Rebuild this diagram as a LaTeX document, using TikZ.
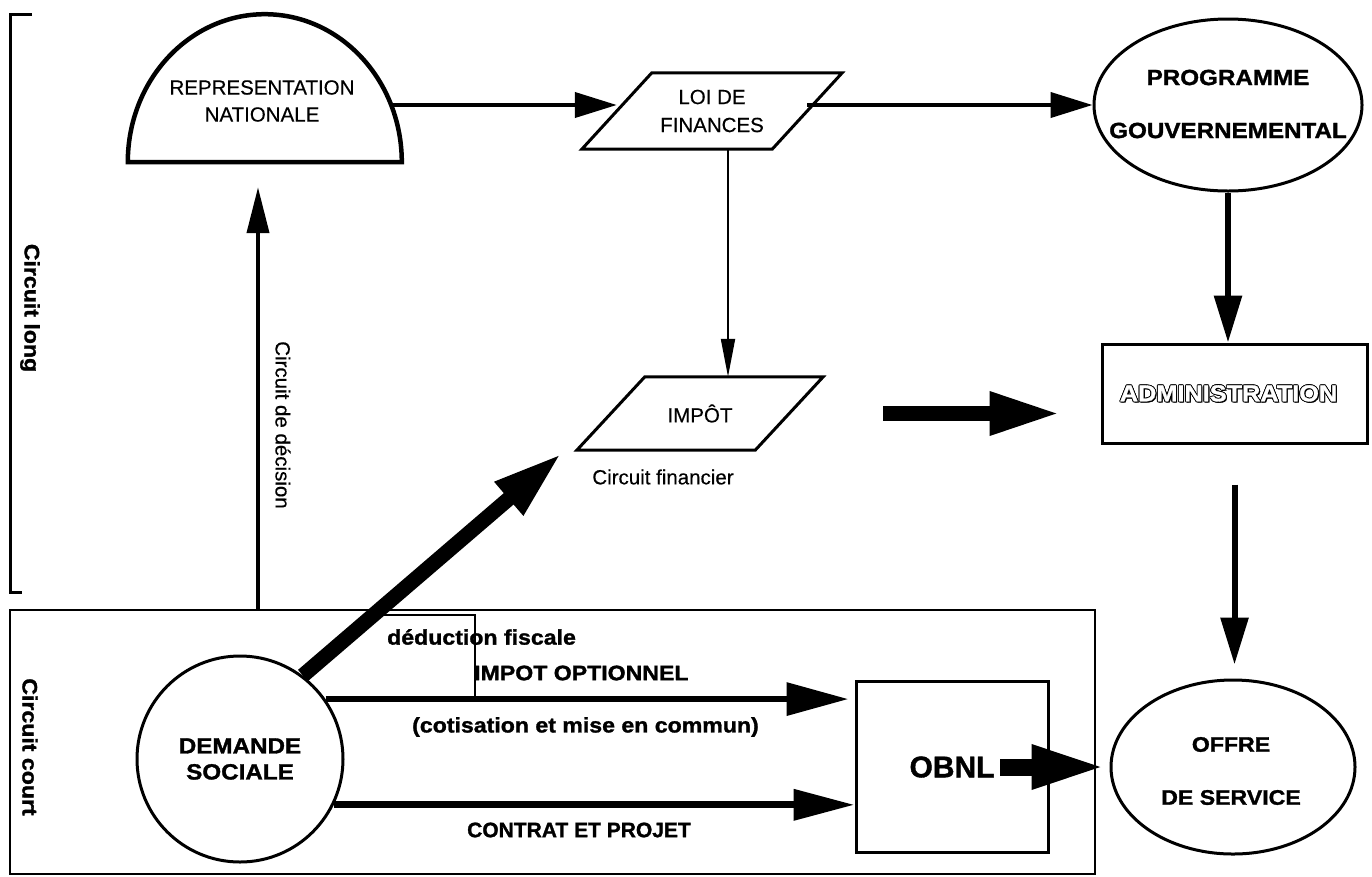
\documentclass[tikz,border=0pt]{standalone}
\usepackage{fontspec}
\setmainfont{Liberation Sans}[UprightFeatures={FakeBold=0.4}, BoldFeatures={FakeBold=1.2}]
\newfontfamily\hv{Liberation Sans}[FakeStretch=1.1, BoldFeatures={FakeBold=1.4}]
\usetikzlibrary{arrows.meta,shapes.geometric,calc}

% outlined (hollow) lettering: black copies around a white copy
\newcommand\hollow[1]{\leavevmode
  \rlap{\kern-0.9pt#1}\rlap{\kern0.9pt#1}%
  \rlap{\raisebox{0.9pt}{#1}}\rlap{\raisebox{-0.9pt}{#1}}%
  \rlap{\kern-0.65pt\raisebox{0.65pt}{#1}}\rlap{\kern0.65pt\raisebox{0.65pt}{#1}}%
  \rlap{\kern-0.65pt\raisebox{-0.65pt}{#1}}\rlap{\kern0.65pt\raisebox{-0.65pt}{#1}}%
  \rlap{\kern1.2pt\raisebox{-1.2pt}{#1}}%
  \textcolor{white}{#1}}

\tikzset{
  reg/.style={font=\fontsize{20.5}{27}\selectfont, align=center, inner sep=0pt},
  hvy/.style={font=\hv\bfseries\fontsize{21}{26}\selectfont, align=center, inner sep=0pt},
  bld/.style={font=\bfseries\fontsize{21}{26}\selectfont, align=center, inner sep=0pt},
  ghost/.style={inner sep=0pt},
  outl/.style={draw, line width=3pt},
  arrA/.style={line width=4pt, -{Triangle[length=42pt,width=25pt]}},
  arrDec/.style={line width=4pt, -{Triangle[length=46pt,width=22pt]}},
  arrT/.style={line width=2pt, -{Triangle[length=38pt,width=14pt]}},
  arrV/.style={line width=6pt, -{Triangle[length=47pt,width=27pt]}},
  arrH/.style={line width=15pt, -{Triangle[length=71pt,width=40pt]}},
  arrO/.style={line width=6.5pt, -{Triangle[length=62pt,width=32pt]}},
  arrOB/.style={line width=17pt, -{Triangle[length=75pt,width=40pt]}},
}

\begin{document}
\begin{tikzpicture}[x=1pt,y=-1pt]
\useasboundingbox (0,0) rectangle (1372,876);

% ---- short circuit frame
\node[draw, line width=2.5pt, minimum width=1085pt, minimum height=264pt, ghost] (court) at (552.5,742) {};

% ---- long circuit bracket
\draw[line width=3pt] (32,14) -- (10,14) -- (10,592) -- (22,592);
\node[hvy, rotate=-90] (longT) at (30,308) {Circuit long};
\node[hvy, rotate=-90] (courtT) at (30,747) {Circuit court};

% ---- national representation (half disc)
\node[ghost, minimum width=274pt, minimum height=148pt] (rep) at (265,88) {};
\draw[line width=4.5pt] (rep.south west) arc[start angle=180, end angle=0, x radius=137pt, y radius=148pt] -- cycle;
\node[reg] (repT) at (262,101) {REPRESENTATION\\NATIONALE};

% ---- finance law (parallelogram)
\node[reg, minimum width=190pt, minimum height=76pt] (loi) at (712,111) {LOI DE\\[1pt]FINANCES};
\draw[line width=3pt] ([xshift=-35pt]loi.south west) -- ([xshift=-35pt]loi.south east)
  -- ([xshift=35pt]loi.north east) -- ([xshift=35pt]loi.north west) -- cycle;

% ---- government programme
\node[ellipse, outl, minimum width=268pt, minimum height=172pt, ghost] (prog) at (1228,105) {};
\node[hvy, font=\hv\bfseries\fontsize{22}{53}\selectfont] (progT) at (1228,104) {PROGRAMME\\GOUVERNEMENTAL};

% ---- tax (parallelogram)
\node[reg, minimum width=178pt, minimum height=73pt] (impot) at (700,413.5) {IMPÔT};
\draw[line width=3pt] ([xshift=-34pt]impot.south west) -- ([xshift=-34pt]impot.south east)
  -- ([xshift=34pt]impot.north east) -- ([xshift=34pt]impot.north west) -- cycle;
\node[reg] (finT) at (663,477) {Circuit financier};

% ---- administration
\node[outl, rectangle, minimum width=265pt, minimum height=99pt, ghost] (admin) at (1234.5,393.5) {};
\node[font=\hv\bfseries\fontsize{23}{26}\selectfont, ghost] (adminT) at ([xshift=-6pt]admin.center) {\hollow{ADMINISTRATION}};

% ---- social demand
\node[circle, outl, minimum size=206pt, ghost, bld, font=\hv\bfseries\fontsize{22}{26}\selectfont] (dem) at (240,759) {DEMANDE\\SOCIALE};

% ---- non-profit organisation
\node[outl, rectangle, minimum width=192pt, minimum height=171pt, ghost,
      font=\bfseries\fontsize{30}{32}\selectfont] (obnl) at (952,767) {OBNL};

% ---- service offer
\node[ellipse, outl, minimum width=244pt, minimum height=174pt, ghost] (offre) at (1233,767) {};
\node[hvy, font=\hv\bfseries\fontsize{21}{53}\selectfont] (offreT) at (1231,771) {OFFRE\\DE SERVICE};

% ---- tax deduction bracket and labels
\draw[line width=2.5pt] (370,615) -- (475,615);
\node[hvy, anchor=west] (dedT) at (387,637) {déduction fiscale};
\node[hvy, anchor=west] (optT) at (474,673) {IMPOT OPTIONNEL};
\draw[line width=2.5pt] (475,614) -- (475,696);
\node[hvy, anchor=west] (cotT) at (412,727) {(cotisation et mise en commun)};
\node[bld] (conT) at (579,830) {CONTRAT ET PROJET};

% ---- decision circuit
\draw[arrDec, shorten >=25pt] ([xshift=18pt]dem.north |- court.north) -- ([xshift=18pt]dem.north |- rep.south);
\node[reg, rotate=-90] (decT) at (283,425) {Circuit de décision};

% ---- connectors of the long circuit
\draw[arrA, shorten <=-10.6pt] ([yshift=-17pt]rep.east) -- ([yshift=-17pt]rep.east -| loi.west);
\draw[arrA] ([yshift=-17pt]rep.east -| loi.east) -- (prog.west);
\draw[arrT] ([xshift=16pt]loi.south) -- ([xshift=16pt]loi.south |- impot.north);
\draw[arrV] (prog.south) -- (prog.south |- admin.north);
\draw[arrH, shorten <=94pt, shorten >=40pt] (impot.east) -- (impot.east -| admin.west);
\draw[arrV, shorten <=40pt, shorten >=14pt] (admin.south) -- (admin.south |- offre.north);

% ---- connectors of the short circuit
\draw[arrH, -{Triangle[length=70pt,width=40pt]}] (dem.53) -- ([xshift=-49pt,yshift=-3pt]impot.south west);
\draw[arrO, shorten >=6pt] (dem.35) -- (dem.35 -| obnl.west);
\draw[arrO, line width=7pt, -{Triangle[length=61pt,width=30pt]}] (dem.-26) -- (dem.-26 -| obnl.west);
\draw[arrOB, shorten <=48pt, shorten >=3pt] (obnl.center) -- (offre.west);
\end{tikzpicture}
\end{document}
